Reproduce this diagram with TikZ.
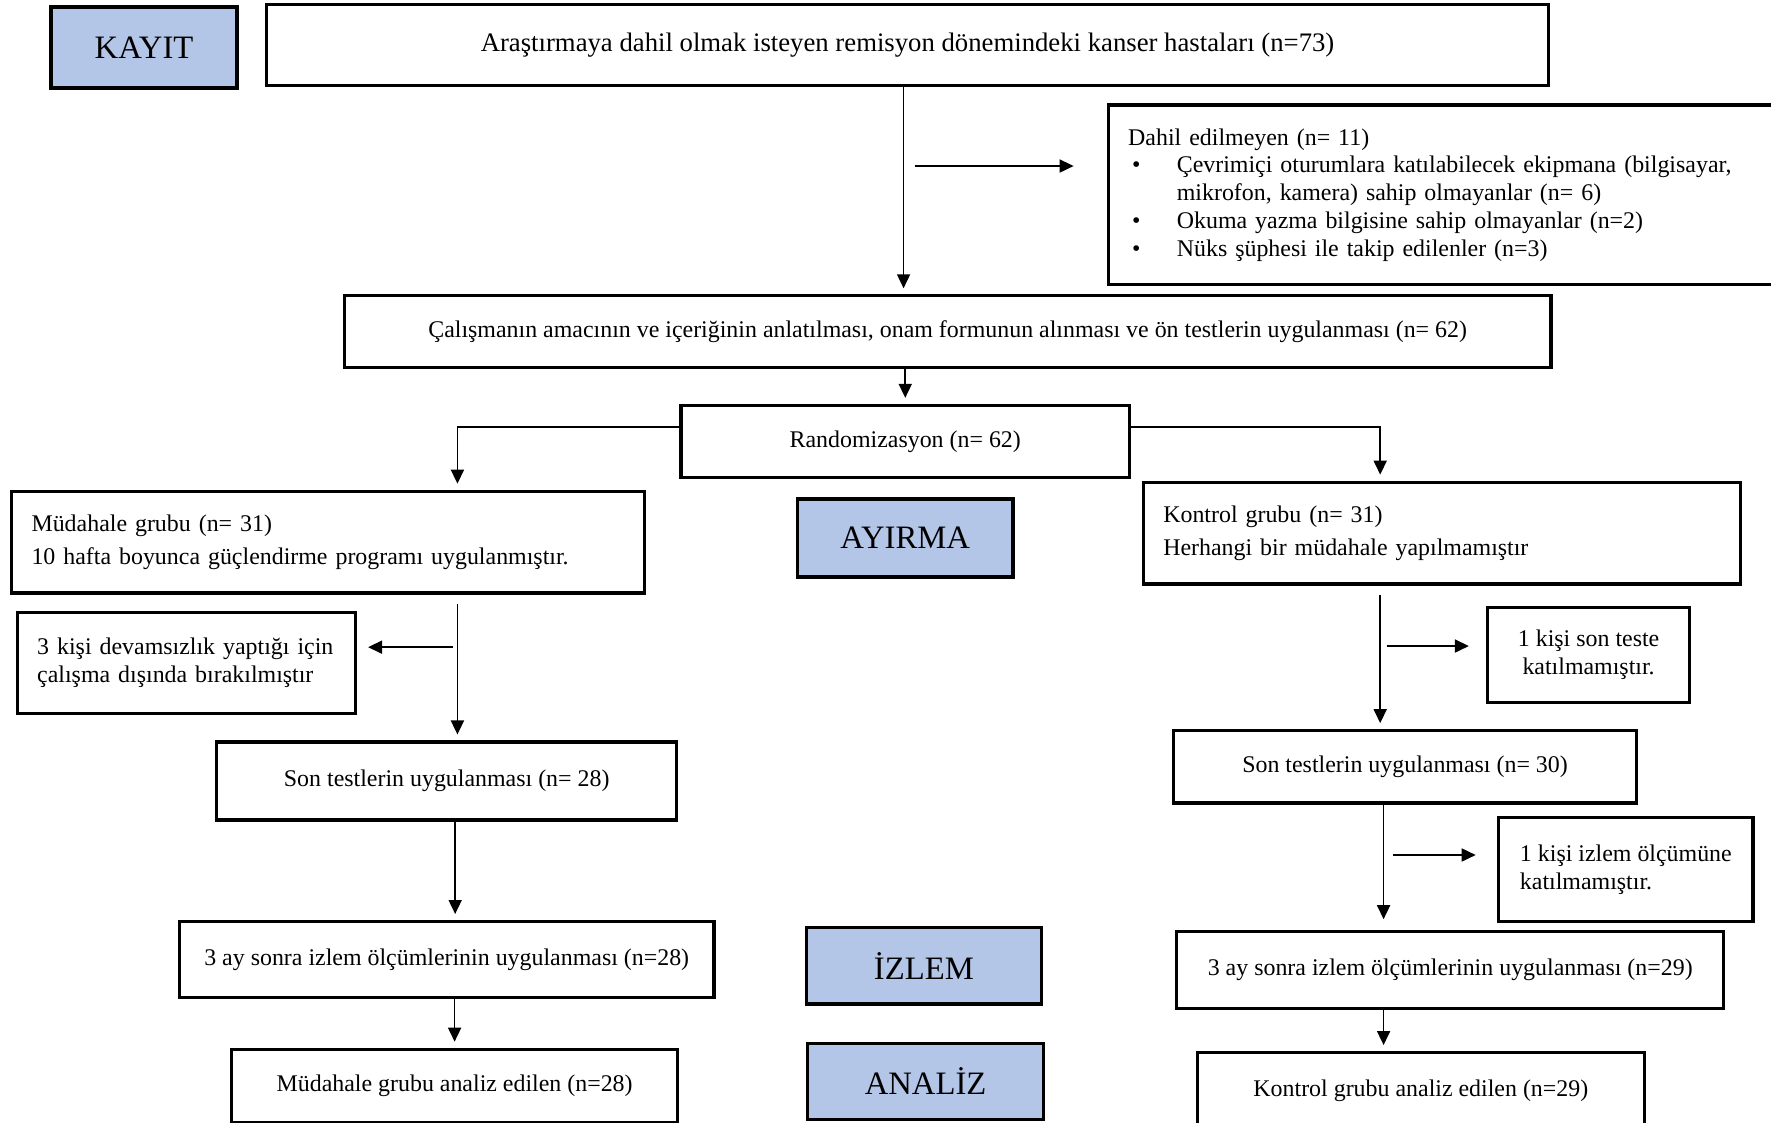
\documentclass[tikz,border=0pt]{standalone}
\usepackage{fontspec}
\setmainfont{Liberation Serif}
\usetikzlibrary{arrows.meta}
\definecolor{stagefill}{HTML}{B4C6E7}

\tikzstyle{stage}=[draw, line width=1pt, fill=stagefill, font=\fontsize{9.3}{11}\selectfont]
\tikzstyle{flowbox}=[draw, line width=0.9pt, font=\fontsize{6.8}{7.9}\selectfont]
\tikzstyle{notebox}=[flowbox, align=left, inner xsep=0.2cm]
\tikzstyle{flow}=[line width=0.5pt, -{Triangle[length=1.4mm, width=1.3mm]}, shorten >=0.06cm]

\begin{document}
\begin{tikzpicture}[x=0.011295cm, y=-0.011295cm]
  \useasboundingbox (0,0) rectangle (1568,994);

  % stage labels
  \node[stage, minimum width=1.864cm, minimum height=0.813cm] (kayit) at (127.5, 42) {KAYIT};
  \node[stage, minimum width=2.157cm, minimum height=0.779cm] (ayirma) at (801.5, 476.5) {AYIRMA};
  \node[stage, minimum width=2.349cm, minimum height=0.768cm] (izlem) at (818, 855) {İZLEM};
  \node[stage, minimum width=2.361cm, minimum height=0.757cm] (analiz) at (819.5, 957.5) {ANALİZ};

  % enrolment
  \node[flowbox, font=\fontsize{7.6}{9}\selectfont, minimum width=12.82cm, minimum height=0.813cm] (enroll) at (803.5, 40)
    {Araştırmaya dahil olmak isteyen remisyon dönemindeki kanser hastaları (n=73)};
  \node[notebox, text width=6.585cm, minimum height=1.796cm] (excl) at (1290.5, 172.5)
    {Dahil edilmeyen (n= 11)\par
     \hangindent=0.486cm\hangafter=1\makebox[0.486cm][l]{\hspace{0.04cm}\textbullet}Çevrimiçi oturumlara katılabilecek ekipmana (bilgisayar,\newline mikrofon, kamera) sahip olmayanlar (n= 6)\par
     \hangindent=0.486cm\hangafter=1\makebox[0.486cm][l]{\hspace{0.04cm}\textbullet}Okuma yazma bilgisine sahip olmayanlar (n=2)\par
     \hangindent=0.486cm\hangafter=1\makebox[0.486cm][l]{\hspace{0.04cm}\textbullet}Nüks şüphesi ile takip edilenler (n=3)};
  \node[flowbox, minimum width=12.063cm, minimum height=0.712cm] (prep) at (839, 293.5)
    {Çalışmanın amacının ve içeriğinin anlatılması, onam formunun alınması ve ön testlerin uygulanması (n= 62)};
  \node[flowbox, minimum width=4.484cm, minimum height=0.723cm] (rand) at (801.5, 391) {Randomizasyon (n= 62)};

  % allocation
  \node[notebox, text width=5.93cm, minimum height=1.017cm, font=\fontsize{6.8}{9.3}\selectfont] (mud) at (290.5, 480)
    {Müdahale grubu (n= 31)\\10 hafta boyunca güçlendirme programı uygulanmıştır.};
  \node[notebox, text width=5.568cm, minimum height=1.017cm, font=\fontsize{6.8}{9.3}\selectfont] (kont) at (1276.5, 472)
    {Kontrol grubu (n= 31)\\Herhangi bir müdahale yapılmamıştır};
  \node[notebox, text width=2.982cm, minimum height=1.017cm] (dropL) at (165, 587)
    {3 kişi devamsızlık yaptığı için\\çalışma dışında bırakılmıştır};
  \node[flowbox, align=center, minimum width=2.022cm, minimum height=0.949cm] (dropR1) at (1406.5, 580)
    {1 kişi son teste\\katılmamıştır.};

  % follow-up
  \node[flowbox, minimum width=4.597cm, minimum height=0.779cm] (postL) at (395.5, 691.5) {Son testlerin uygulanması (n= 28)};
  \node[flowbox, minimum width=4.631cm, minimum height=0.723cm] (postR) at (1244, 679) {Son testlerin uygulanması (n= 30)};
  \node[notebox, inner xsep=0.19cm, minimum width=2.541cm, minimum height=1.039cm] (dropR2) at (1439.5, 770)
    {1 kişi izlem ölçümüne\\katılmamıştır.};
  \node[flowbox, minimum width=5.343cm, minimum height=0.757cm] (followL) at (395.5, 849.5)
    {3 ay sonra izlem ölçümlerinin uygulanması (n=28)};
  \node[flowbox, minimum width=5.467cm, minimum height=0.768cm] (followR) at (1284, 859)
    {3 ay sonra izlem ölçümlerinin uygulanması (n=29)};

  % analysis
  \node[flowbox, minimum width=4.461cm, minimum height=0.734cm] (anaL) at (402.5, 961.5) {Müdahale grubu analiz edilen (n=28)};
  \node[flowbox, minimum width=4.473cm, minimum height=0.768cm] (anaR) at (1258, 966) {Kontrol grubu analiz edilen (n=29)};

  % connectors
  \coordinate (topcol) at (800, 0);
  \coordinate (exclfrom) at (810, 147);
  \coordinate (lsplit) at (405, 378);
  \coordinate (rsplit) at (1222, 378);
  \coordinate (dropLfrom) at (401, 573);
  \coordinate (dropR1from) at (1228, 572);
  \coordinate (dropR2from) at (1233, 757);
  \coordinate (lcol) at (403, 0);
  \coordinate (rcol) at (1225, 0);

  \draw[flow] (enroll.south -| topcol) -- (topcol |- prep.north);
  \draw[flow, shorten >=0.33cm] (exclfrom) -- (exclfrom -| excl.west);
  \draw[flow] (prep.south -| rand.north) -- (rand.north);
  \draw[flow] (lsplit -| rand.west) -- (lsplit) -- (lsplit |- mud.north);
  \draw[flow] (rsplit -| rand.east) -- (rsplit) -- (rsplit |- kont.north);
  \draw[flow, shorten <=0.09cm] (lsplit |- mud.south) -- (lsplit |- postL.north);
  \draw[flow, shorten >=0.11cm] (dropLfrom) -- (dropLfrom -| dropL.east);
  \draw[flow, shorten <=0.09cm] (rsplit |- kont.south) -- (rsplit |- postR.north);
  \draw[flow, shorten >=0.17cm] (dropR1from) -- (dropR1from -| dropR1.west);
  \draw[flow] (postL.south -| lcol) -- (lcol |- followL.north);
  \draw[flow] (followL.south -| anaL.north) -- (anaL.north);
  \draw[flow, shorten >=0.11cm] (postR.south -| rcol) -- (rcol |- followR.north);
  \draw[flow, shorten >=0.215cm] (dropR2from) -- (dropR2from -| dropR2.west);
  \draw[flow] (followR.south -| rcol) -- (rcol |- anaR.north);
\end{tikzpicture}
\end{document}
